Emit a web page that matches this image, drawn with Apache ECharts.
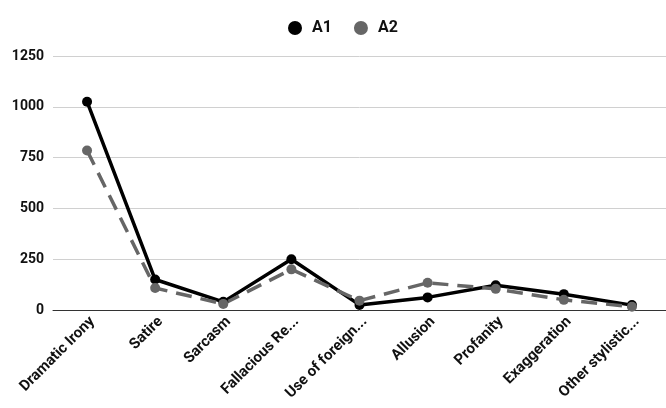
<!DOCTYPE html>
<html><head><meta charset="utf-8">
<script src="https://cdn.jsdelivr.net/npm/echarts@6/dist/echarts.min.js"></script>
<style>html,body{margin:0;padding:0;background:#fff}#c{width:666px;height:408px}</style>
</head><body><div id="c"></div>
<script>
const categories = ["Dramatic Irony","Satire","Sarcasm","Fallacious Re...","Use of foreign...","Allusion","Profanity","Exaggeration","Other stylistic..."];
const a1 = [1025,150,40,250,25,62,122,78,24];
const a2 = [785,108,30,200,46,134,104,50,16];
const yTicks = {min:0,max:1250,interval:250};

const chart = echarts.init(document.getElementById('c'));
const font = 'Roboto';
chart.setOption({
  animation:false,
  legend:{top:15,left:283,icon:'circle',itemWidth:14,itemHeight:14,itemGap:22,
    textStyle:{fontFamily:font,fontWeight:'bold',fontSize:16,color:'#111',padding:[0,0,0,5]},
    data:['A1','A2']},
  grid:{left:53,top:56,width:619,height:254,containLabel:false},
  xAxis:{type:'category',data:categories,boundaryGap:true,
    axisLine:{lineStyle:{color:'#333',width:1}},axisTick:{show:false},
    axisLabel:{rotate:45,interval:0,fontFamily:font,fontWeight:'bold',fontSize:15,color:'#111',margin:4,verticalAlign:'top'}},
  yAxis:{type:'value',min:yTicks.min,max:yTicks.max,interval:yTicks.interval,
    axisLine:{show:false},axisTick:{show:false},
    splitLine:{lineStyle:{color:'#d0d0d0',width:1}},
    axisLabel:{fontFamily:font,fontWeight:'bold',fontSize:14,color:'#111',margin:9,formatter:v=>String(v)}},
  series:[
    {name:'A1',type:'line',data:a1,symbol:'circle',symbolSize:10,
      lineStyle:{color:'#000',width:3.5},itemStyle:{color:'#000'}},
    {name:'A2',type:'line',data:a2,symbol:'circle',symbolSize:10,
      lineStyle:{color:'#666',width:3.5,type:[16,9]},itemStyle:{color:'#666'}}
  ]
});
</script></body></html>
